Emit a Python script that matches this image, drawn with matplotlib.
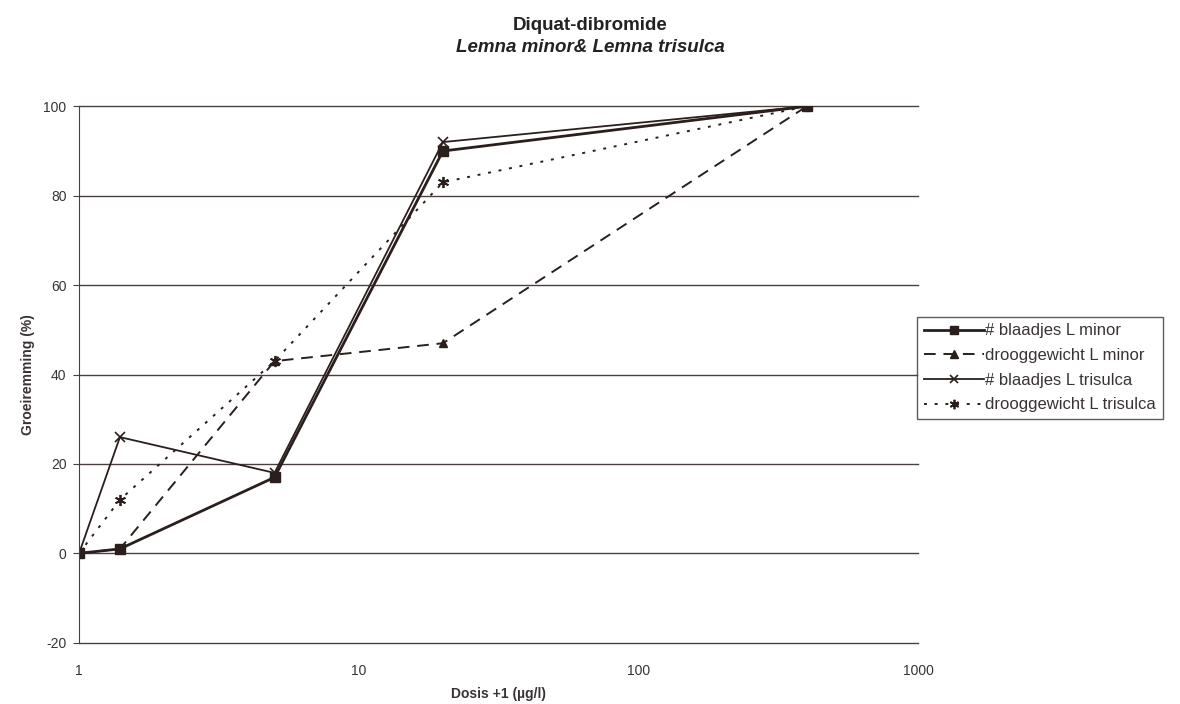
import matplotlib
matplotlib.use("Agg")
import matplotlib.pyplot as plt

plt.rcParams['font.family'] = ['Liberation Sans', 'DejaVu Sans']
plt.rcParams['axes.unicode_minus'] = False

# dose + 1 (ug/l)
dosis = [1, 1.4, 5, 20, 400]

blad_minor = [0, 1, 17, 90, 100]
droog_minor = [0, 1, 43, 47, 100]
blad_trisulca = [0, 26, 18, 92, 100]
droog_trisulca = [0, 12, 43, 83, 100]

labels = ['# blaadjes L minor', 'drooggewicht L minor',
          '# blaadjes L trisulca', 'drooggewicht L trisulca']

ink = '#2a1f1c'
grid_c = '#4a4040'
txt = '#3a3333'

fig = plt.figure(figsize=(11.8, 7.04), dpi=100)
ax = fig.add_axes([0.067, 0.087, 0.711, 0.762])

ax.plot(dosis, blad_minor, color=ink, lw=2.0, marker='s', ms=6.5, label=labels[0])
ax.plot(dosis, droog_minor, color=ink, lw=1.4, ls=(0, (6, 4)), marker='^', ms=6,
        label=labels[1])
ax.plot(dosis, blad_trisulca, color=ink, lw=1.3, marker='x', ms=7, mew=1.2,
        label=labels[2])
ax.plot(dosis, droog_trisulca, color=ink, lw=1.4, ls=(0, (1.5, 4)), marker=(6, 2, 0),
        ms=8, mew=1.3, label=labels[3])

ax.set_xscale('log')
ax.set_xlim(1, 1000)
ax.set_ylim(-20, 100)
ax.set_yticks(range(-20, 101, 20))
ax.set_xticks([1, 10, 100, 1000])
ax.set_xticklabels(['1', '10', '100', '1000'])
ax.minorticks_off()

ax.grid(axis='y', color=grid_c, lw=1.0)
for gl in ax.get_ygridlines():
    gl.set_clip_on(False)
ax.set_axisbelow(True)
for s in ['top', 'right', 'bottom']:
    ax.spines[s].set_visible(False)
ax.spines['left'].set_color(grid_c)
ax.tick_params(axis='x', length=0, pad=15, labelsize=10, colors=txt)
ax.tick_params(axis='y', length=4, pad=5, labelsize=10, colors=txt, color=grid_c)

ax.set_xlabel('Dosis +1 (\u00b5g/l)', fontsize=10, fontweight='bold', color=txt,
              labelpad=7)
ax.set_ylabel('Groeiremming (%)', fontsize=10, fontweight='bold', color=txt,
              labelpad=6)

fig.text(0.5, 0.957, 'Diquat-dibromide', ha='center', va='baseline', fontsize=13.5,
         fontweight='bold', color='#222')
fig.text(0.5, 0.926, 'Lemna minor& Lemna trisulca', ha='center', va='baseline',
         fontsize=13.5, fontweight='bold', fontstyle='italic', color='#222')

leg = fig.legend(loc='upper left', bbox_to_anchor=(0.777, 0.55), fontsize=12,
                 frameon=True, fancybox=False, edgecolor='#333', handlelength=3.6,
                 borderpad=0.4, labelspacing=0.58, handletextpad=0.1,
                 borderaxespad=0, markerscale=0.85)
leg.get_frame().set_linewidth(1.0)
for t in leg.get_texts():
    t.set_color(txt)

fig.savefig('out.png', dpi=100)
